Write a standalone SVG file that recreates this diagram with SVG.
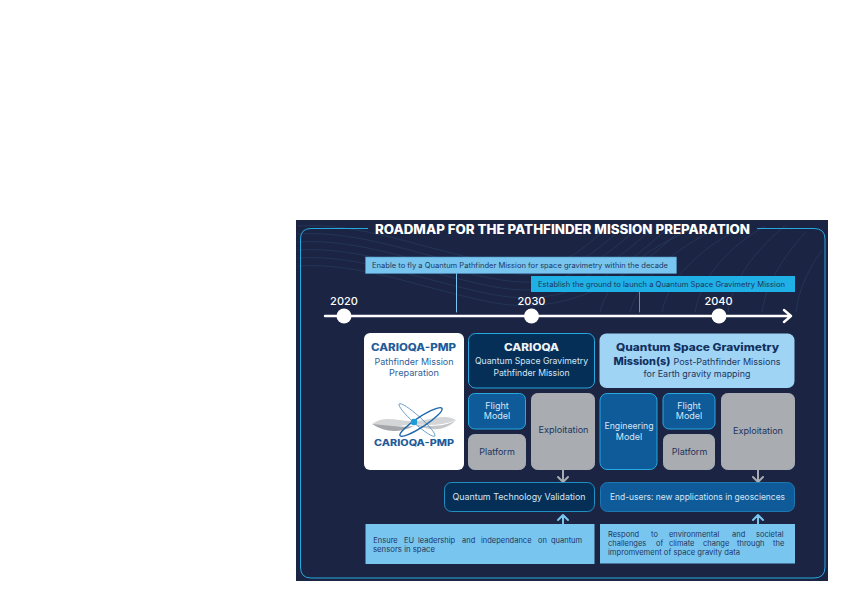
<svg xmlns="http://www.w3.org/2000/svg" width="842" height="595" viewBox="0 0 842 595">
<style>
text{font-family:"Inter","Liberation Sans",sans-serif;font-size:9px;text-anchor:middle}
.dk{fill:#1e3560}
.lt{fill:#d5e6f5}
.h{font-weight:800}
.yr{fill:#fff;font-size:11px;font-weight:500}
.sm{font-size:7.500px;text-anchor:start;fill:#1e3560}
.g{fill:#a9acb0;stroke:#a9acb0}
.b{fill:#0f5a98;stroke:#25a9e0;stroke-width:1}
.n{fill:#052f57;stroke:#25a9e0;stroke-width:1}
.wave{fill:none;stroke:#3a5482;stroke-width:.7;opacity:.45}
.conn{fill:none;stroke-linecap:round;stroke-linejoin:round}
</style>
<rect width="842" height="595" fill="#fff"/>
<rect x="296" y="220" width="532" height="361" fill="#1b2543"/>
<g class="wave">
<path d="M298 226C360 222 420 248 490 262S570 258 610 226"/>
<path d="M298 234C360 230 420 256 490 270S580 264 625 226"/>
<path d="M298 242C360 238 420 264 490 278S590 270 640 226"/>
<path d="M298 250C360 246 420 272 490 286S600 276 655 226"/>
<path d="M298 258C360 254 420 280 490 294S610 282 670 226"/>
<path d="M298 266C360 262 420 288 490 302S620 288 685 226"/>
<path d="M600 312C608 280 640 250 700 226"/>
<path d="M630 312C638 282 670 250 722 226"/>
<path d="M662 312C668 282 695 250 745 226"/>
<path d="M695 312C700 284 720 252 765 226"/>
<path d="M728 312C732 286 748 256 785 226"/>
<path d="M762 312C765 290 778 262 806 232"/>
<path d="M796 312C798 294 806 272 822 250"/>
</g>
<g id="frame"><path d="M368 228.500H311Q300.500 228.500 300.500 239V567Q300.500 578 311 578H814Q825 578 825 567V239Q825 228.500 814 228.500H757" fill="none" stroke="#25a9e0" stroke-width="1"/></g>
<text id="title" x="562.500" y="233.500" class="h" style="font-size:12.500px;fill:#fff" textLength="375" lengthAdjust="spacingAndGlyphs">ROADMAP FOR THE PATHFINDER MISSION PREPARATION</text>

<g id="connectors">
<path class="conn" d="M456.500 273V312" stroke="#78c6ef" stroke-width="1"/>
<path class="conn" d="M639.500 292V312" stroke="#25a9e0" stroke-width="1"/>
<path class="conn" d="M325 316H791M784 310L791 316L784 322" stroke="#fff" stroke-width="2.400"/>
<path class="conn" d="M563 470V482M558 477L563 482L568 477" stroke="#a9acb0" stroke-width="2"/>
<path class="conn" d="M758 470V482M753 477L758 482L763 477" stroke="#a9acb0" stroke-width="2"/>
<path class="conn" d="M563 524V515M558 520L563 515L568 520" stroke="#78c6ef" stroke-width="2"/>
<path class="conn" d="M758 524V515M753 520L758 515L763 520" stroke="#78c6ef" stroke-width="2"/>
</g>

<g id="banner1"><rect x="365.500" y="257" width="311" height="16.500" fill="#78c6ef" stroke="#4f8fbe" stroke-width=".6"/><text x="520" y="268" class="dk" style="font-size:7.200px" textLength="296" lengthAdjust="spacingAndGlyphs">Enable to fly a Quantum Pathfinder Mission for space gravimetry within the decade</text></g>
<g id="banner2"><rect x="531" y="276" width="264" height="16" fill="#1fb0e6"/><text x="661.500" y="287" class="dk" style="font-size:7.200px" textLength="247" lengthAdjust="spacingAndGlyphs">Establish the ground to launch a Quantum Space Gravimetry Mission</text></g>

<g id="y2020"><circle cx="344" cy="316" r="7.500" fill="#fff"/><text x="344" y="305" class="yr">2020</text></g>
<g id="y2030"><circle cx="531.500" cy="316" r="7.500" fill="#fff"/><text x="531.500" y="305" class="yr">2030</text></g>
<g id="y2040"><circle cx="719" cy="316" r="7.500" fill="#fff"/><text x="718.500" y="305" class="yr">2040</text></g>

<g id="pmp">
<rect x="364" y="333" width="100" height="137" rx="6" fill="#fff"/>
<text x="413.500" y="350.500" class="h" style="font-size:9.800px;fill:#1f5c99" textLength="85" lengthAdjust="spacingAndGlyphs">CARIOQA-PMP</text>
<text x="414" y="365" style="fill:#2f5f9a" textLength="79" lengthAdjust="spacingAndGlyphs">Pathfinder Mission</text>
<text x="414" y="376" style="fill:#2f5f9a" textLength="50" lengthAdjust="spacingAndGlyphs">Preparation</text>
<path d="M372 424C385 414 400 422 414 421C432 420 445 413 456 420C445 425 430 426 414 424C400 425 385 431 372 424Z" fill="#d3d5d7"/>
<path d="M372 424C385 425 400 428 414 426C400 433 385 433 372 424Z" fill="#a4a6a9"/>
<path d="M414 424C428 427 445 427 456 420C445 432 428 431 414 424Z" fill="#c4c6c9"/>
<ellipse cx="417" cy="420" rx="24" ry="4" transform="rotate(42 417 420)" fill="none" stroke="#3f7fb8" stroke-width=".7"/>
<ellipse cx="421" cy="422" rx="25" ry="5" transform="rotate(-33 421 422)" fill="none" stroke="#1f68ab" stroke-width="1.400"/>
<circle cx="414" cy="422" r="3.200" fill="#1c9cd8"/>
<text x="414" y="446" class="h" style="font-size:8.600px;fill:#1f5c99" textLength="80" lengthAdjust="spacingAndGlyphs">CARIOQA-PMP</text>
</g>

<g id="carioqa">
<rect x="468.500" y="333.500" width="126" height="54.500" rx="7" class="n"/>
<text x="531.500" y="351" class="h" style="font-size:9.800px;fill:#eef4fa" textLength="55" lengthAdjust="spacingAndGlyphs">CARIOQA</text>
<text x="531.500" y="364" class="lt" textLength="113" lengthAdjust="spacingAndGlyphs">Quantum Space Gravimetry</text>
<text x="531.500" y="376" class="lt" textLength="76" lengthAdjust="spacingAndGlyphs">Pathfinder Mission</text>
</g>
<g id="fm1"><rect x="468.500" y="393.500" width="57" height="35.500" rx="6" class="b"/><text x="497" y="409" class="lt">Flight</text><text x="497" y="419" class="lt">Model</text></g>
<g id="plat1"><rect x="468.500" y="434.500" width="57" height="35" rx="6" class="g"/><text x="497" y="455" class="dk">Platform</text></g>
<g id="exp1"><rect x="531.500" y="393.500" width="63" height="76" rx="6" class="g"/><text x="563.500" y="433" class="dk" textLength="50" lengthAdjust="spacingAndGlyphs">Exploitation</text></g>

<g id="qsgm">
<rect x="599.500" y="333.500" width="195" height="54.500" rx="7" fill="#9fd4f5"/>
<text x="697.500" y="351" class="h" style="font-size:10.200px;fill:#12315f" textLength="163" lengthAdjust="spacingAndGlyphs">Quantum Space Gravimetry</text>
<text x="613.500" y="365" class="h" style="font-size:10.200px;fill:#12315f;text-anchor:start" textLength="57" lengthAdjust="spacingAndGlyphs">Mission(s)</text>
<text x="673.500" y="365" class="dk" style="text-anchor:start" textLength="107" lengthAdjust="spacingAndGlyphs">Post-Pathfinder Missions</text>
<text x="697" y="377" class="dk" textLength="107" lengthAdjust="spacingAndGlyphs">for Earth gravity mapping</text>
</g>
<g id="em"><rect x="600" y="393.500" width="57" height="76" rx="7" class="b"/><text x="629" y="429" class="lt" textLength="49" lengthAdjust="spacingAndGlyphs">Engineering</text><text x="629" y="440" class="lt">Model</text></g>
<g id="fm2"><rect x="663" y="393.500" width="52" height="35.500" rx="6" class="b"/><text x="689" y="409" class="lt">Flight</text><text x="689" y="419" class="lt">Model</text></g>
<g id="plat2"><rect x="663.500" y="434.500" width="51" height="35" rx="6" class="g"/><text x="689.500" y="455" class="dk">Platform</text></g>
<g id="exp2"><rect x="721.500" y="393.500" width="73" height="76" rx="6" class="g"/><text x="758" y="434" class="dk" textLength="50" lengthAdjust="spacingAndGlyphs">Exploitation</text></g>

<g id="qtv"><rect x="444.500" y="482.500" width="150" height="29" rx="7" class="n" style="stroke-width:.8"/><text x="519" y="500" class="lt" textLength="133" lengthAdjust="spacingAndGlyphs">Quantum Technology Validation</text></g>
<g id="eu"><rect x="600.500" y="482.500" width="194" height="29" rx="7" fill="#0f5a98" stroke="#1f87c2" stroke-width=".8"/><text x="697.500" y="500" class="lt" textLength="175" lengthAdjust="spacingAndGlyphs">End-users: new applications in geosciences</text></g>

<g id="n1"><rect x="365.500" y="524" width="229" height="40" fill="#78c6ef"/>
<text y="543" class="sm"><tspan x="373.300">Ensure</tspan> <tspan x="404">EU</tspan> <tspan x="418">leadership</tspan> <tspan x="462">and</tspan> <tspan x="481">independance</tspan> <tspan x="538">on</tspan> <tspan x="551">quantum</tspan></text>
<text x="373" y="552" class="sm" textLength="62" lengthAdjust="spacingAndGlyphs">sensors in space</text></g>
<g id="n2"><rect x="600" y="524" width="195" height="39.500" fill="#78c6ef"/>
<text y="537" class="sm"><tspan x="608">Respond</tspan> <tspan x="651">to</tspan> <tspan x="669">environmental</tspan> <tspan x="732">and</tspan> <tspan x="756">societal</tspan></text>
<text y="546" class="sm"><tspan x="608">challenges</tspan> <tspan x="656">of</tspan> <tspan x="669">climate</tspan> <tspan x="703">change</tspan> <tspan x="737">through</tspan> <tspan x="773">the</tspan></text>
<text x="608" y="555" class="sm" textLength="132" lengthAdjust="spacingAndGlyphs">impromvement of space gravity data</text></g>
</svg>
